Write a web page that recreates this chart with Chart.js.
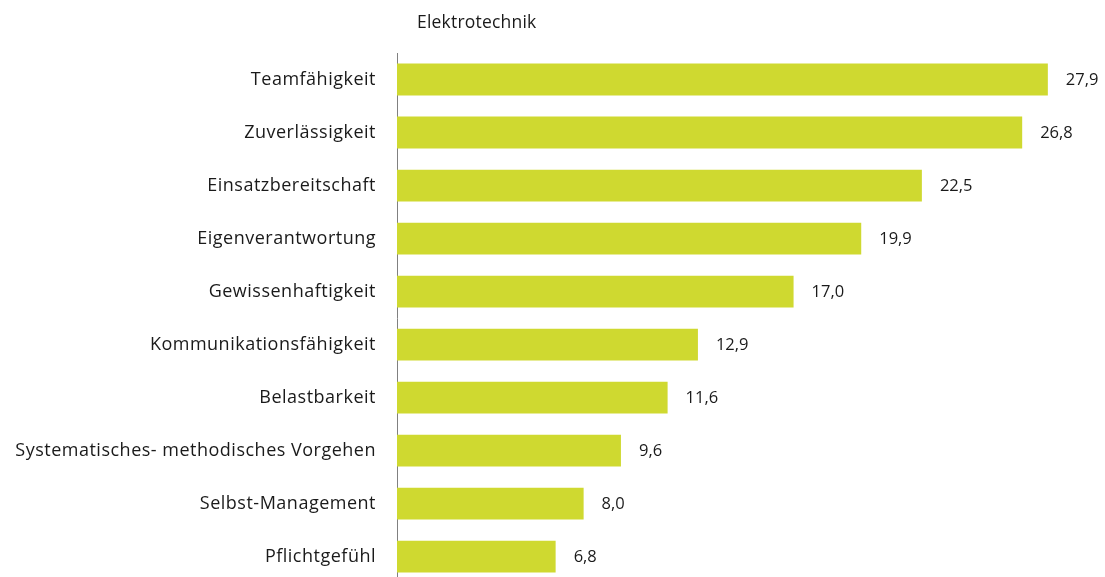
<!DOCTYPE html>
<html><head><meta charset="utf-8">
<script src="https://cdn.jsdelivr.net/npm/chart.js@4.4.0/dist/chart.umd.min.js"></script>
<style>html,body{margin:0;padding:0;overflow:hidden;background:#fff}#wrap{width:1105px;height:615px}</style>
</head><body><div id="wrap"><canvas id="c" width="1105" height="615"></canvas></div>
<script>
const chartTitle = "Elektrotechnik";
const categories = ["Teamfähigkeit","Zuverlässigkeit","Einsatzbereitschaft","Eigenverantwortung","Gewissenhaftigkeit","Kommunikationsfähigkeit","Belastbarkeit","Systematisches- methodisches Vorgehen","Selbst-Management","Pflichtgefühl"];
const values = [27.9, 26.8, 22.5, 19.9, 17.0, 12.9, 11.6, 9.6, 8.0, 6.8];

const FONT = "'Open Sans', sans-serif";
const labelPlugin = {
  id: 'valLabels',
  beforeDraw(chart) {
    chart.ctx.letterSpacing = '0.5px';
  },
  afterDatasetsDraw(chart) {
    const ctx = chart.ctx;
    const meta = chart.getDatasetMeta(0);
    ctx.save();
    ctx.letterSpacing = '0px';
    ctx.font = "16.5px " + FONT;
    ctx.fillStyle = "#1a1a1a";
    ctx.textBaseline = "middle";
    ctx.textAlign = "left";
    meta.data.forEach((bar, i) => {
      ctx.fillText(values[i].toFixed(1).replace('.', ','), bar.x + 18, bar.y + 1);
    });
    ctx.letterSpacing = '0.2px';
    ctx.font = "17.5px " + FONT;
    ctx.fillText(chartTitle, 417, 23);
    ctx.restore();
  }
};

new Chart(document.getElementById('c'), {
  type: 'bar',
  data: {
    labels: categories,
    datasets: [{
      data: values,
      backgroundColor: '#cfd930',
      borderWidth: 0,
      barPercentage: 0.6,
      categoryPercentage: 1.0
    }]
  },
  options: {
    indexAxis: 'y',
    responsive: false,
    animation: false,
    events: [],
    layout: { padding: { top: 53, bottom: 6, left: 0, right: 0 } },
    plugins: { legend: { display: false }, tooltip: { enabled: false }, title: { display: false } },
    scales: {
      x: { display: false, min: 0, max: 30.35 },
      y: {
        grid: { display: false, drawTicks: false },
        border: { display: true, color: '#808080', width: 1 },
        ticks: { color: '#1a1a1a', font: { family: FONT, size: 18 }, padding: 21 },
        afterFit(scale) { scale.width = 397; }
      }
    }
  },
  plugins: [labelPlugin]
});
</script></body></html>
